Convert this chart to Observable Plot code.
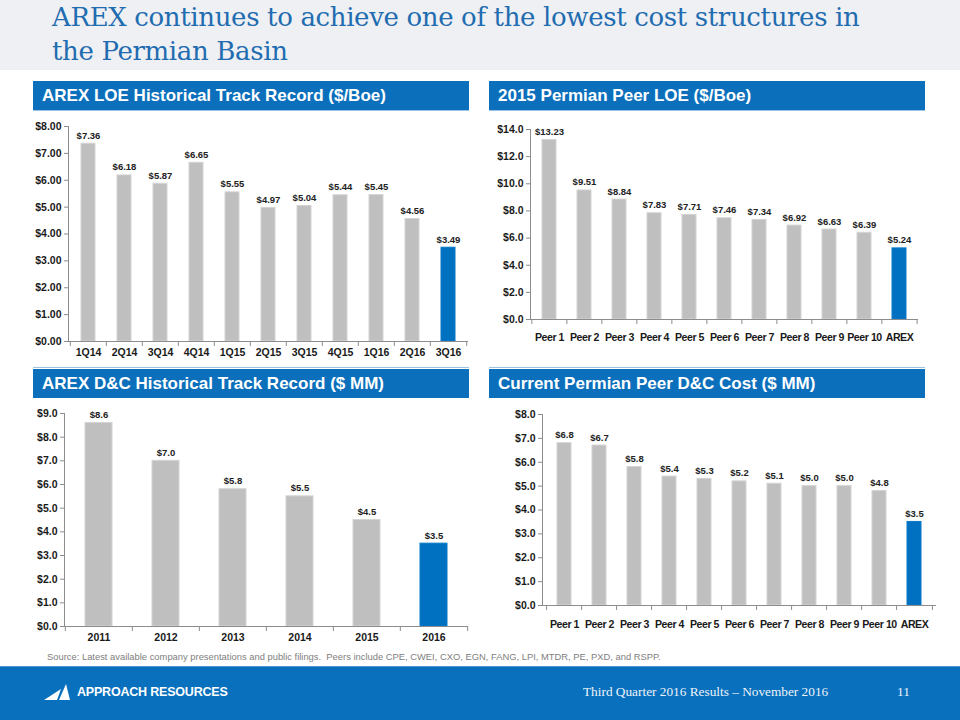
<!DOCTYPE html>
<html>
<head>
<meta charset="utf-8">
<script src="https://cdn.jsdelivr.net/npm/d3@7"></script>
<script src="https://cdn.jsdelivr.net/npm/@observablehq/plot@0.6"></script>
<style>
  html, body { margin: 0; padding: 0; background: #fff; }
  #slide { position: relative; width: 960px; height: 720px; overflow: hidden; background: #fff; font-family: "Liberation Sans", Arial, sans-serif; }
  #titleband { position: absolute; left: 0; top: 0; width: 960px; height: 70px; background: #eef0f3; }
  #title { position: absolute; left: 52px; top: 0px; font-family: "DejaVu Serif", Georgia, serif; font-size: 26px; line-height: 34px; letter-spacing: -0.35px; color: #1f6cb0; white-space: nowrap; }
  .hdr { position: absolute; height: 29px; line-height: 29px; background: #0b6fbc; color: #fff; font-weight: bold; font-size: 17px; padding-left: 9px; box-sizing: border-box; white-space: nowrap; }
  .sep { position: absolute; height: 1px; background: #9cc3e4; }
  .chart { position: absolute; }
  #source { position: absolute; left: 47px; top: 651px; font-size: 9.4px; color: #808080; white-space: nowrap; }
  #footer { position: absolute; left: 0; top: 666px; width: 960px; height: 54px; background: #0870bd; border-top: 1px solid #4f97d3; }
  #brand { position: absolute; left: 77px; top: 18px; color: #fff; font-weight: bold; font-size: 12.5px; letter-spacing: -0.2px; }
  #logo { position: absolute; left: 44px; top: 16px; }
  #event { position: absolute; left: 583px; top: 17px; color: #eef3f9; font-family: "Liberation Serif", "Times New Roman", serif; font-size: 13.3px; }
  #page { position: absolute; left: 897px; top: 17px; color: #eef3f9; font-family: "Liberation Serif", "Times New Roman", serif; font-size: 13.3px; }
</style>
</head>
<body>
<div id="slide">
  <div id="titleband"></div>
  <div id="title">AREX continues to achieve one of the lowest cost structures in<br>the Permian Basin</div>

  <div class="hdr" style="left:33px;top:81px;width:436px;">AREX LOE Historical Track Record ($/Boe)</div>
  <div class="hdr" style="left:489px;top:81px;width:436px;">2015 Permian Peer LOE ($/Boe)</div>
  <div class="hdr" style="left:33px;top:369px;width:436px;">AREX D&amp;C Historical Track Record ($ MM)</div>
  <div class="hdr" style="left:489px;top:369px;width:436px;">Current Permian Peer D&amp;C Cost ($ MM)</div>

  <div class="sep" style="left:33px;top:110px;width:436px;"></div>
  <div class="sep" style="left:489px;top:110px;width:436px;"></div>
  <div class="sep" style="left:33px;top:367px;width:436px;"></div>
  <div class="sep" style="left:489px;top:367px;width:436px;"></div>

  <div class="chart" id="c1" style="left:0px;top:110px;"></div>
  <div class="chart" id="c2" style="left:480px;top:110px;"></div>
  <div class="chart" id="c3" style="left:0px;top:399px;"></div>
  <div class="chart" id="c4" style="left:480px;top:399px;"></div>

  <div id="source">Source: Latest available company presentations and public filings.&nbsp; Peers include CPE, CWEI, CXO, EGN, FANG, LPI, MTDR, PE, PXD, and RSPP.</div>

  <div id="footer">
    <svg id="logo" width="30" height="18" viewBox="0 0 30 18">
      <polygon points="0,17 17,6 13,17" fill="#fff"/>
      <polygon points="15,17 22,1 26,17" fill="#fff"/>
    </svg>
    <div id="brand">APPROACH RESOURCES</div>
    <div id="event">Third Quarter 2016 Results – November 2016</div>
    <div id="page">11</div>
  </div>
</div>

<script>
// ---- Data ----
const loeQuarters = ["1Q14", "2Q14", "3Q14", "4Q14", "1Q15", "2Q15", "3Q15", "4Q15", "1Q16", "2Q16", "3Q16"];
const loeValues = [7.36, 6.18, 5.87, 6.65, 5.55, 4.97, 5.04, 5.44, 5.45, 4.56, 3.49];
const loeTicks = [0, 1, 2, 3, 4, 5, 6, 7, 8];

const peerLoeNames = ["Peer 1", "Peer 2", "Peer 3", "Peer 4", "Peer 5", "Peer 6", "Peer 7", "Peer 8", "Peer 9", "Peer 10", "AREX"];
const peerLoeValues = [13.23, 9.51, 8.84, 7.83, 7.71, 7.46, 7.34, 6.92, 6.63, 6.39, 5.24];
const peerLoeTicks = [0, 2, 4, 6, 8, 10, 12, 14];

const dcYears = ["2011", "2012", "2013", "2014", "2015", "2016"];
const dcValues = [8.6, 7.0, 5.8, 5.5, 4.5, 3.5];
const dcTicks = [0, 1, 2, 3, 4, 5, 6, 7, 8, 9];

const peerDcNames = ["Peer 1", "Peer 2", "Peer 3", "Peer 4", "Peer 5", "Peer 6", "Peer 7", "Peer 8", "Peer 9", "Peer 10", "AREX"];
const peerDcValues = [6.8, 6.7, 5.8, 5.4, 5.3, 5.2, 5.1, 5.0, 5.0, 4.8, 3.5];
const peerDcTicks = [0, 1, 2, 3, 4, 5, 6, 7, 8];

const highlighted = ["3Q16", "AREX", "2016"];
const GRAY = "#bfbfbf";
const BLUE = "#0070c0";

function barChart({cats, vals, ticks, yFmt, lblFmt, width, height, mt, mr, mb, ml, xPad, xFont}) {
  const data = cats.map((c, i) => ({cat: c, val: vals[i]}));
  const step = (width - ml - mr) / cats.length;
  const axisColor = "#8c8c8c";
  return Plot.plot({
    width, height,
    marginTop: mt, marginRight: mr, marginBottom: mb, marginLeft: ml,
    style: {fontFamily: "'Liberation Sans', Arial, sans-serif", fontWeight: "bold", fontSize: "10.5px", color: "#1a1a1a", background: "transparent", overflow: "visible"},
    x: {domain: cats, paddingInner: 0.6, paddingOuter: 0.3, label: null},
    y: {domain: [0, d3.max(ticks)], label: null},
    marks: [
      Plot.barY(data, {x: "cat", y: "val", fill: d => highlighted.includes(d.cat) ? BLUE : GRAY, stroke: d => highlighted.includes(d.cat) ? "#0a78c8" : "#d4d4d4", strokeWidth: 1}),
      Plot.text(data, {x: "cat", y: "val", text: d => lblFmt(d.val), lineAnchor: "bottom", dy: -5, fontSize: 9.5, fontWeight: "bold", fill: "#222"}),
      Plot.axisY({ticks, tickFormat: yFmt, tickSize: 4, tickPadding: 3, stroke: axisColor, fill: "#1a1a1a", fontSize: 10.5}),
      Plot.axisX({tickSize: 0, tickPadding: xPad, fill: "#1a1a1a", fontSize: xFont}),
      Plot.axisX({tickSize: 5, tickFormat: () => "", dx: -step / 2, stroke: axisColor}),
      Plot.axisX({ticks: [cats[cats.length - 1]], tickSize: 5, tickFormat: () => "", dx: step / 2, stroke: axisColor}),
      Plot.ruleY([0], {stroke: axisColor}),
      Plot.frame({anchor: "left", stroke: axisColor})
    ]
  });
}

const fmt2 = d3.format("$.2f");
const fmt1 = d3.format("$.1f");

function mount(id, opts, spacing) {
  const svg = barChart(opts);
  if (spacing) {
    // tighten the x tick labels slightly so neighbouring labels do not touch
    svg.querySelectorAll("g[aria-label='x-axis tick label'] text").forEach(t => t.setAttribute("letter-spacing", spacing));
  }
  document.getElementById(id).appendChild(svg);
}

mount("c1", {
  cats: loeQuarters, vals: loeValues, ticks: loeTicks, yFmt: fmt2, lblFmt: fmt2,
  width: 480, height: 258, mt: 16, mr: 12, mb: 27, ml: 68, xPad: 7, xFont: 10.5
});
mount("c2", {
  cats: peerLoeNames, vals: peerLoeValues, ticks: peerLoeTicks, yFmt: fmt1, lblFmt: fmt2,
  width: 480, height: 258, mt: 19, mr: 42, mb: 49, ml: 50, xPad: 14, xFont: 10.6
}, "-0.45px");
mount("c3", {
  cats: dcYears, vals: dcValues, ticks: dcTicks, yFmt: fmt1, lblFmt: fmt1,
  width: 480, height: 251, mt: 14, mr: 12, mb: 24, ml: 64, xPad: 7, xFont: 10.5
});
mount("c4", {
  cats: peerDcNames, vals: peerDcValues, ticks: peerDcTicks, yFmt: fmt1, lblFmt: fmt1,
  width: 480, height: 251, mt: 15, mr: 24, mb: 45, ml: 62, xPad: 15, xFont: 10.6
}, "-0.45px");
</script>
</body>
</html>
